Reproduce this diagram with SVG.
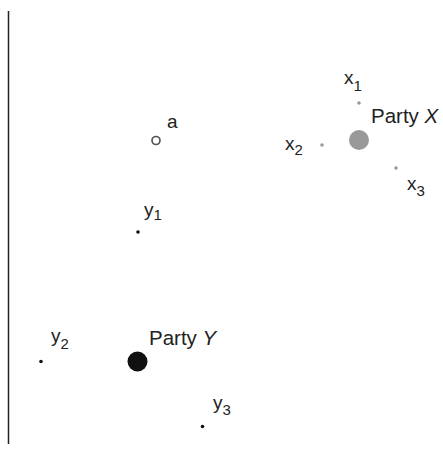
<svg xmlns="http://www.w3.org/2000/svg" width="443" height="449" viewBox="0 0 443 449">
<style>
text{font-family:"Liberation Sans",Arial,sans-serif;fill:#222;font-size:19px}
.party{font-size:20.5px}
.sub{font-size:15px}
.g{fill:#999}
.k{fill:#111}
</style>
<rect width="443" height="449" fill="#fff"/>
<g id="axis"><line x1="8.5" y1="11" x2="8.5" y2="444" stroke="#222" stroke-width="1.5"/></g>
<g id="connectors"></g>
<g id="partyX"><circle cx="359" cy="140" r="10" class="g"/><text x="371" y="123" class="party">Party <tspan font-style="italic">X</tspan></text></g>
<g id="x1"><circle cx="359" cy="103" r="1.8" class="g"/><text x="344" y="84">x<tspan class="sub" dy="7">1</tspan></text></g>
<g id="x2"><circle cx="322" cy="145" r="1.8" class="g"/><text x="285" y="150">x<tspan class="sub" dy="5">2</tspan></text></g>
<g id="x3"><circle cx="396" cy="168" r="1.8" class="g"/><text x="407" y="190">x<tspan class="sub" dy="6">3</tspan></text></g>
<g id="a"><circle cx="156" cy="140.5" r="4" fill="none" stroke="#555" stroke-width="1.7"/><text x="167" y="128">a</text></g>
<g id="y1"><circle cx="138" cy="232" r="1.8" class="k"/><text x="144" y="216">y<tspan class="sub" dy="4">1</tspan></text></g>
<g id="partyY"><circle cx="137.5" cy="361.5" r="10" class="k"/><text x="149" y="345" class="party">Party <tspan font-style="italic">Y</tspan></text></g>
<g id="y2"><circle cx="41" cy="361.5" r="1.8" class="k"/><text x="51" y="342">y<tspan class="sub" dy="7">2</tspan></text></g>
<g id="y3"><circle cx="202.5" cy="426.5" r="1.8" class="k"/><text x="213" y="409">y<tspan class="sub" dy="6">3</tspan></text></g>
</svg>
